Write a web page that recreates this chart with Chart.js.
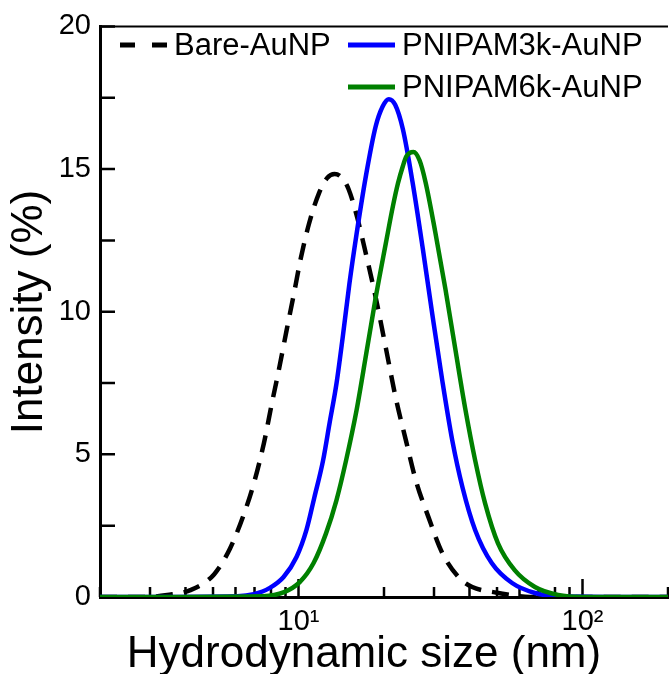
<!DOCTYPE html>
<html>
<head>
<meta charset="utf-8">
<script src="https://cdn.jsdelivr.net/npm/chart.js@4.4.1/dist/chart.umd.min.js"></script>
<style>
  html, body { margin: 0; padding: 0; background: #fff; overflow: hidden; }
  #wrap { width: 669px; height: 674px; overflow: hidden; }
  canvas { display: block; }
</style>
</head>
<body>
<div id="wrap"><canvas id="dlsChart" width="676" height="674"></canvas></div>
<script>
// DLS size distributions (intensity weighted)
const bareSize      = [2, 2.9, 3.45, 4.16, 5.05, 5.74, 6.42, 6.96, 7.55, 8.05, 8.51, 9.08, 9.6, 10.2, 10.9, 11.8, 12.6, 13.4, 14.2, 15.0, 16.0, 17.3, 18.7, 20.3, 22.0, 23.9, 25.9, 28.7, 32.1, 36.6, 40.9, 50, 57, 65, 200];
const bareIntensity = [0, 0, 0.07, 0.24, 0.8, 1.7, 2.9, 3.98, 5.38, 6.77, 7.92, 9.35, 10.55, 11.9, 13.1, 14.15, 14.68, 14.83, 14.7, 14.3, 13.4, 12.0, 10.5, 8.73, 6.98, 5.48, 4.08, 2.79, 1.54, 0.70, 0.35, 0.15, 0.06, 0, 0];

const pn3Size      = [2, 6.1, 6.96, 7.9, 8.86, 9.84, 10.66, 11.37, 12.2, 12.85, 13.6, 14.3, 15.1, 16.0, 17.3, 18.7, 19.8, 20.8, 21.9, 23.3, 25.2, 27.4, 29.6, 32.1, 34.8, 37.8, 41.9, 47.9, 56.5, 68, 82, 200];
const pn3Intensity = [0, 0.03, 0.10, 0.31, 0.70, 1.40, 2.34, 3.49, 4.78, 6.07, 7.47, 9.08, 10.96, 12.7, 14.8, 16.5, 17.2, 17.45, 17.25, 16.4, 14.55, 12.2, 9.9, 7.57, 5.48, 3.84, 2.34, 1.19, 0.49, 0.14, 0.03, 0];

const pn6Size      = [2, 7.5, 8.9, 10.1, 11.3, 12.5, 13.6, 14.7, 16.0, 17.3, 18.7, 20.3, 21.5, 22.4, 23.3, 24.0, 25.4, 26.7, 28.0, 30.3, 32.9, 35.6, 38.6, 41.9, 45.4, 50.4, 57.7, 68, 82, 100, 200];
const pn6Intensity = [0, 0.03, 0.17, 0.52, 1.19, 2.23, 3.39, 4.78, 6.53, 8.5, 10.5, 12.4, 13.7, 14.5, 15.1, 15.45, 15.6, 15.3, 14.55, 12.8, 10.8, 8.73, 6.63, 4.78, 3.28, 1.88, 0.94, 0.35, 0.07, 0, 0];

const seriesLabels = ['Bare-AuNP', 'PNIPAM3k-AuNP', 'PNIPAM6k-AuNP'];
const xTickValues  = [2, 3, 4, 5, 6, 7, 8, 9, 10, 20, 30, 40, 50, 60, 70, 80, 90, 100, 200];
const xTickLabels  = { 10: '10\u00b9', 100: '10\u00b2' };
const yTickStep    = 2.5;
const xTitle = 'Hydrodynamic size (nm)';
const yTitle = 'Intensity (%)';

const FONT = '"Liberation Sans", Arial, Helvetica, sans-serif';

function toPoints(xs, ys) {
    return xs.map((x, i) => ({ x: x, y: ys[i] }));
}

// ticks drawn inward + top frame line
const innerTicks = {
    id: 'innerTicks',
    beforeDatasetsDraw(chart) {
        const { ctx, chartArea: a, scales: { x, y } } = chart;
        ctx.save();
        ctx.strokeStyle = '#000';
        ctx.lineWidth = 2.5;
        ctx.beginPath();
        x.ticks.forEach(t => {
            const px = x.getPixelForValue(t.value);
            const len = xTickLabels[t.value] ? 18 : 10;
            ctx.moveTo(px, a.bottom);
            ctx.lineTo(px, a.bottom - len);
        });
        y.ticks.forEach(t => {
            const py = y.getPixelForValue(t.value);
            ctx.moveTo(a.left, py);
            ctx.lineTo(a.left + 15, py);
        });
        ctx.stroke();
        ctx.lineWidth = 2;
        ctx.beginPath();
        ctx.moveTo(a.left, a.top);
        ctx.lineTo(a.right, a.top);
        ctx.stroke();
        ctx.restore();
    }
};

// legend inside the plot (two rows) and the axis titles
const legendAndTitles = {
    id: 'legendAndTitles',
    afterDraw(chart) {
        const ctx = chart.ctx;
        const rows = [
            { i: 0, x: 120, y: 45 },
            { i: 1, x: 348, y: 45 },
            { i: 2, x: 348, y: 87 }
        ];
        ctx.save();
        ctx.font = '31px ' + FONT;
        ctx.textBaseline = 'middle';
        ctx.textAlign = 'left';
        rows.forEach(r => {
            const ds = chart.data.datasets[r.i];
            ctx.strokeStyle = ds.borderColor;
            ctx.lineWidth = ds.borderWidth + 0.5;
            ctx.setLineDash(ds.borderDash ? [15, 17] : []);
            ctx.beginPath();
            ctx.moveTo(r.x, r.y);
            ctx.lineTo(r.x + 47, r.y);
            ctx.stroke();
            ctx.setLineDash([]);
            ctx.fillStyle = '#000';
            ctx.fillText(ds.label, r.x + 54, r.y + 1);
        });

        ctx.font = '44px ' + FONT;
        ctx.textAlign = 'center';
        ctx.fillText(xTitle, 364, 655);
        ctx.translate(30, 312);
        ctx.rotate(-Math.PI / 2);
        ctx.fillText(yTitle, 0, 0);
        ctx.restore();
    }
};

const ctx = document.getElementById('dlsChart').getContext('2d');
const myChart = new Chart(ctx, {
    type: 'line',
    data: {
        datasets: [
            {
                label: seriesLabels[0], data: toPoints(bareSize, bareIntensity),
                borderColor: '#000000', borderWidth: 4.5, borderDash: [17, 11],
                order: 2
            },
            {
                label: seriesLabels[1], data: toPoints(pn3Size, pn3Intensity),
                borderColor: '#0000ff', borderWidth: 4.5,
                order: 1
            },
            {
                label: seriesLabels[2], data: toPoints(pn6Size, pn6Intensity),
                borderColor: '#008000', borderWidth: 4.5,
                order: 0
            }
        ]
    },
    options: {
        responsive: false,
        animation: false,
        devicePixelRatio: 1,
        layout: { padding: { top: 24, right: 2, left: 0, bottom: 0 } },
        elements: {
            point: { radius: 0 },
            line: { cubicInterpolationMode: 'monotone', fill: false }
        },
        plugins: { legend: { display: false }, tooltip: { enabled: false } },
        scales: {
            x: {
                type: 'logarithmic', min: 2, max: 200,
                afterBuildTicks: scale => { scale.ticks = xTickValues.map(v => ({ value: v })); },
                afterFit: scale => { scale.height = 77; },
                grid: { display: false, drawTicks: false },
                border: { display: true, color: '#000', width: 3 },
                ticks: {
                    autoSkip: false, maxRotation: 0, padding: 8,
                    color: '#000', font: { family: FONT, size: 29 },
                    callback: v => xTickLabels[v] || ''
                }
            },
            y: {
                type: 'linear', min: 0, max: 20,
                afterFit: scale => { scale.width = 100; },
                grid: { display: false, drawTicks: false },
                border: { display: true, color: '#000', width: 3 },
                ticks: {
                    stepSize: yTickStep, padding: 9,
                    color: '#000', font: { family: FONT, size: 29 },
                    callback: v => (v % 5 === 0 ? v : '')
                }
            }
        }
    },
    plugins: [innerTicks, legendAndTitles]
});
</script>
</body>
</html>
